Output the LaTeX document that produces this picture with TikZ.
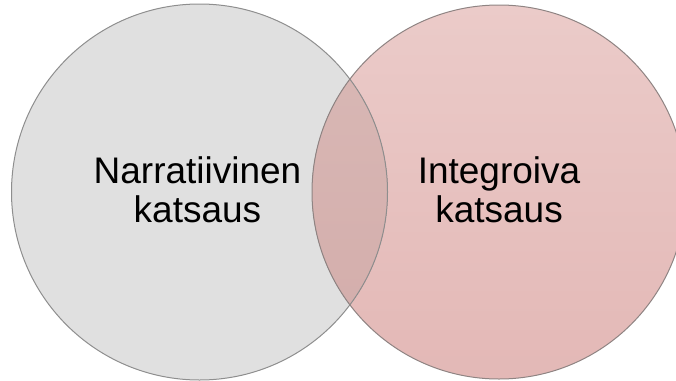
\documentclass[tikz,border=0pt]{standalone}
\usepackage{fontspec}
\setmainfont{Liberation Sans}
\definecolor{greyfill}{HTML}{E0E0E0}
\definecolor{rosetop}{HTML}{EBCBC9}
\definecolor{rosebottom}{HTML}{E3B8B6}
\definecolor{lenstop}{HTML}{D9B9B6}
\definecolor{lensbottom}{HTML}{D3ACAA}
\definecolor{rimgrey}{HTML}{8E8E8E}
\definecolor{rimrose}{HTML}{8F8483}
\tikzset{
  setcircle/.style={circle, inner sep=0pt, minimum size=#1},
  setlabel/.style={align=center, font=\fontsize{37}{39}\selectfont, text=black, inner sep=0pt}
}
\begin{document}
\begin{tikzpicture}[x=1pt, y=-1pt]
  \useasboundingbox (0,0) rectangle (676,380);
  % left set
  \node[setcircle=376, fill=greyfill] (narr) at (199.5,192) {};
  % right set
  \node[setcircle=374, top color=rosetop, bottom color=rosebottom] (integ) at (499,192) {};
  % overlap of the two sets
  \begin{scope}
    \clip (199.5,192) circle (188);
    \fill[top color=lenstop, bottom color=lensbottom] (499,192) circle (187);
  \end{scope}
  % outlines
  \draw[rimgrey, line width=1pt] (narr.center) circle (188);
  \draw[rimrose, line width=1pt] (integ.center) circle (187);
  % labels
  \node[setlabel] (narrlabel) at (197.5,190) {Narratiivinen\\katsaus};
  \node[setlabel] (integlabel) at (499,190) {Integroiva\\katsaus};
\end{tikzpicture}
\end{document}
